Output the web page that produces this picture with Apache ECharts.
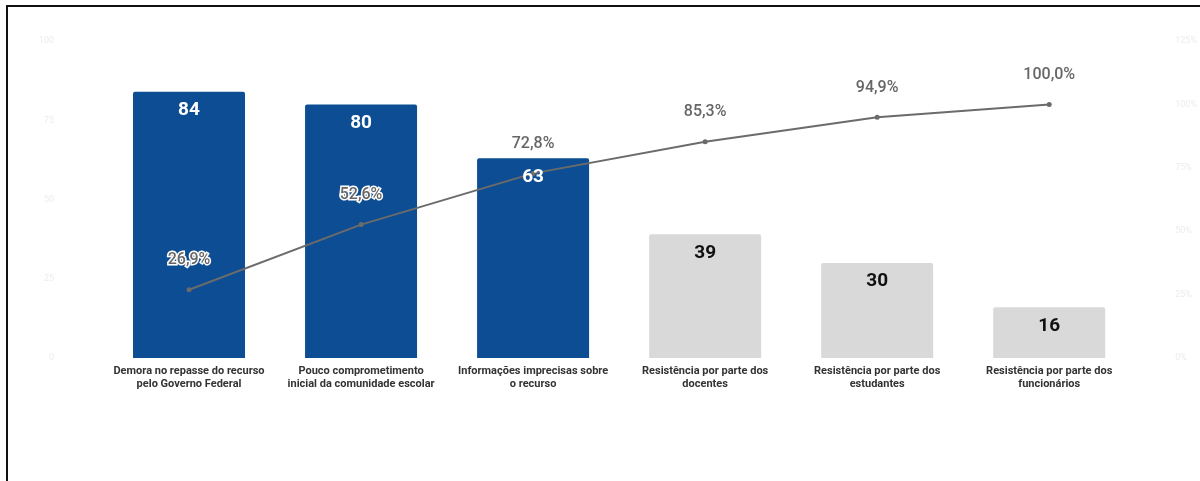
<!DOCTYPE html>
<html>
<head>
<meta charset="utf-8">
<script src="https://cdn.jsdelivr.net/npm/echarts@6/dist/echarts.min.js"></script>
<style>
  html, body { margin: 0; padding: 0; background: #fff; }
  #wrap { position: relative; width: 1200px; height: 481px; overflow: hidden; }
  #chart { position: absolute; left: 0; top: 0; width: 1200px; height: 481px; }
  #frame { position: absolute; left: 6px; top: 5px; width: 1200px; height: 500px;
           border-left: 2px solid #111; border-top: 2px solid #111; pointer-events: none; }
</style>
</head>
<body>
<div id="wrap">
  <div id="chart"></div>
  <div id="frame"></div>
</div>
<script>
const categories = [
  "Demora no repasse do recurso\npelo Governo Federal",
  "Pouco comprometimento\ninicial da comunidade escolar",
  "Informações imprecisas sobre\no recurso",
  "Resistência por parte dos\ndocentes",
  "Resistência por parte dos\nestudantes",
  "Resistência por parte dos\nfuncionários"
];
const counts = [84, 80, 63, 39, 30, 16];
const cumulativePct = [26.9, 52.6, 72.8, 85.3, 94.9, 100.0];
const highlighted = [true, true, true, false, false, false];
const leftTicks = { min: 0, max: 100, interval: 25 };
const rightTicks = { min: 0, max: 125, interval: 25 };

const BLUE = '#0c4d93';
const GRAY = '#d9d9d9';

const chart = echarts.init(document.getElementById('chart'));
chart.setOption({
  animation: false,
  textStyle: { fontFamily: 'Roboto' },
  grid: { left: 103, right: 54, top: 41, bottom: 123, containLabel: false },
  xAxis: {
    type: 'category',
    data: categories,
    axisLine: { show: false },
    axisTick: { show: false },
    axisLabel: {
      interval: 0, fontSize: 11, fontWeight: 'bold', color: '#333',
      lineHeight: 13, margin: 7, fontFamily: 'Roboto'
    }
  },
  yAxis: [
    {
      type: 'value', min: leftTicks.min, max: leftTicks.max, interval: leftTicks.interval,
      splitLine: { show: false }, axisLine: { show: false }, axisTick: { show: false },
      axisLabel: { color: '#ececec', fontSize: 9, margin: 49 }
    },
    {
      type: 'value', min: rightTicks.min, max: rightTicks.max, interval: rightTicks.interval,
      splitLine: { show: false }, axisLine: { show: false }, axisTick: { show: false },
      axisLabel: { color: '#ececec', fontSize: 9, margin: 40, formatter: '{value}%' }
    }
  ],
  series: [
    {
      type: 'bar',
      yAxisIndex: 0,
      barWidth: 112,
      data: counts.map((v, i) => ({
        value: v,
        itemStyle: { color: highlighted[i] ? BLUE : GRAY, borderRadius: [2, 2, 0, 0] }
      })),
      label: { show: false },
      z: 2
    },
    {
      type: 'line',
      yAxisIndex: 1,
      data: cumulativePct,
      symbol: 'circle',
      symbolSize: 5,
      lineStyle: { color: '#6b6b6b', width: 2 },
      itemStyle: { color: '#6b6b6b' },
      label: {
        show: true, position: 'top', distance: 19,
        fontSize: 16, color: '#666', fontFamily: 'Roboto', fontWeight: 500,
        textBorderColor: '#fff', textBorderWidth: 3,
        formatter: p => p.value.toFixed(1).replace('.', ',') + '%'
      },
      z: 3
    },
    {
      type: 'bar',
      yAxisIndex: 0,
      barWidth: 112,
      barGap: '-100%',
      silent: true,
      data: counts.map((v, i) => ({
        value: v,
        label: { color: highlighted[i] ? '#fff' : '#111' }
      })),
      itemStyle: { color: 'rgba(0,0,0,0)' },
      label: {
        show: true, position: 'insideTop', distance: 9,
        fontSize: 19, fontWeight: 'bold', fontFamily: 'Roboto'
      },
      z: 4
    }
  ]
});
</script>
</body>
</html>
